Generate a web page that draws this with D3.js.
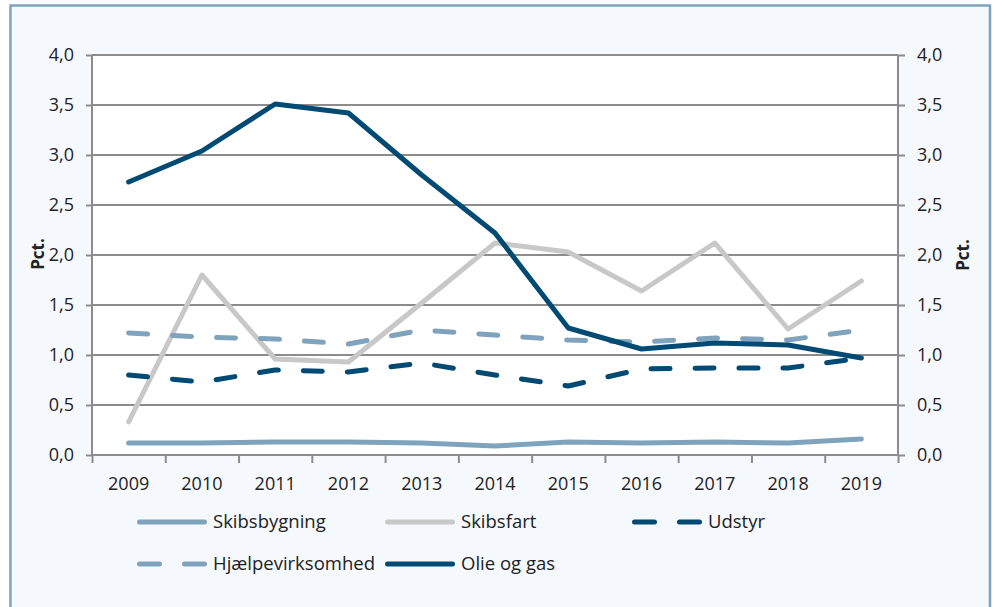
<!DOCTYPE html>
<html>
<head>
<meta charset="utf-8">
<script src="https://cdn.jsdelivr.net/npm/d3@7"></script>
<style>
  html, body { margin: 0; padding: 0; background: #ffffff; }
  svg { display: block; }
  text { font-family: "Open Sans", "Noto Sans", sans-serif; fill: #222222; }
</style>
</head>
<body>
<svg id="chart" width="994" height="607"></svg>
<script>
const years = ["2009","2010","2011","2012","2013","2014","2015","2016","2017","2018","2019"];
const skibsbygning     = [0.12, 0.12, 0.13, 0.13, 0.12, 0.09, 0.13, 0.12, 0.13, 0.12, 0.16];
const skibsfart        = [0.33, 1.80, 0.96, 0.93, 1.52, 2.12, 2.03, 1.64, 2.12, 1.26, 1.74];
const udstyr           = [0.80, 0.73, 0.85, 0.83, 0.92, 0.80, 0.69, 0.86, 0.87, 0.87, 0.97];
const hjaelpevirksomhed= [1.22, 1.18, 1.16, 1.11, 1.25, 1.20, 1.15, 1.13, 1.17, 1.15, 1.25];
const olieOgGas        = [2.73, 3.04, 3.51, 3.42, 2.80, 2.22, 1.27, 1.06, 1.12, 1.10, 0.97];
const yTicks = [0, 0.5, 1, 1.5, 2, 2.5, 3, 3.5, 4];
const yLabel = "Pct.";

const series = [
  { name: "Skibsbygning", values: skibsbygning, color: "#7fa3bc", dash: null },
  { name: "Skibsfart", values: skibsfart, color: "#c8c8c8", dash: null },
  { name: "Udstyr", values: udstyr, color: "#004a73", dash: "19,25" },
  { name: "Hjælpevirksomhed", values: hjaelpevirksomhed, color: "#7fa3bc", dash: "19,25" },
  { name: "Olie og gas", values: olieOgGas, color: "#004a73", dash: null }
];

const svg = d3.select("#chart");
const L = 92, R = 898, T = 55, B = 455;

// outer frame
svg.append("rect").attr("x", 10.5).attr("y", 5.5).attr("width", 979.5).attr("height", 620)
  .attr("fill", "#f5f9fd").attr("stroke", "#7fa3bd").attr("stroke-width", 2.5);

// plot area
svg.append("rect").attr("x", L).attr("y", T).attr("width", R - L).attr("height", B - T)
  .attr("fill", "#ffffff");

const x = d3.scaleBand().domain(years).range([L, R]).paddingInner(0).paddingOuter(0);
const y = d3.scaleLinear().domain([0, 4]).range([B, T]);
const fmt = v => d3.format(".1f")(v).replace(".", ",");

// gridlines
svg.append("g").selectAll("line").data(yTicks.filter(d => d > 0)).join("line")
  .attr("x1", L).attr("x2", R).attr("y1", d => y(d)).attr("y2", d => y(d))
  .attr("stroke", "#8c8c8c").attr("stroke-width", 2);

const axisColor = "#8c8c8c";
// left axis
const gl = svg.append("g").attr("transform", `translate(${L},0)`)
  .call(d3.axisLeft(y).tickValues(yTicks).tickFormat(fmt).tickSize(6).tickPadding(12));
// right axis
const gr = svg.append("g").attr("transform", `translate(${R},0)`)
  .call(d3.axisRight(y).tickValues(yTicks).tickFormat(fmt).tickSize(7).tickPadding(12));
// bottom axis
const xb = d3.scalePoint().domain(d3.range(years.length + 1)).range([L, R]);
const gb = svg.append("g").attr("transform", `translate(0,${B})`)
  .call(d3.axisBottom(xb).tickSize(8).tickFormat(""));
svg.append("g").selectAll("text").data(years).join("text")
  .attr("x", d => x(d) + x.bandwidth() / 2).attr("y", 490)
  .attr("text-anchor", "middle").attr("font-size", 18).text(d => d);

[gl, gr, gb].forEach(g => {
  g.select(".domain").attr("stroke", axisColor).attr("stroke-width", 2);
  g.selectAll(".tick line").attr("stroke", axisColor).attr("stroke-width", 2);
  g.selectAll(".tick text").attr("font-size", 18).attr("fill", "#222222")
    .attr("font-family", "'Open Sans', 'Noto Sans', sans-serif");
});
gl.select(".domain").attr("d", `M0,${B}V${T}`);
gr.select(".domain").attr("d", `M0,${B}V${T}`);
gb.select(".domain").attr("d", `M${L},0H${R}`);

// axis titles
svg.append("text").attr("transform", `translate(44,254) rotate(-90)`)
  .attr("text-anchor", "middle").attr("font-size", 17).attr("font-weight", "bold").text(yLabel);
svg.append("text").attr("transform", `translate(969,255) rotate(-90)`)
  .attr("text-anchor", "middle").attr("font-size", 17).attr("font-weight", "bold").text(yLabel);

// lines
const line = d3.line()
  .x((d, i) => x(years[i]) + x.bandwidth() / 2)
  .y(d => y(d));
svg.append("g").selectAll("path").data(series).join("path")
  .attr("d", d => line(d.values))
  .attr("fill", "none").attr("stroke", d => d.color).attr("stroke-width", 5)
  .attr("stroke-linejoin", "round").attr("stroke-linecap", "round")
  .attr("stroke-dasharray", d => d.dash);

// legend
const legendPos = [
  { x: 137, y: 522 }, { x: 385, y: 522 }, { x: 632, y: 522 },
  { x: 137, y: 564 }, { x: 385, y: 564 }
];
const lg = svg.append("g").selectAll("g").data(series).join("g")
  .attr("transform", (d, i) => `translate(${legendPos[i].x},${legendPos[i].y})`);
lg.append("line").attr("x1", 2.5).attr("x2", 67.5).attr("y1", 0).attr("y2", 0)
  .attr("stroke", d => d.color).attr("stroke-width", 5).attr("stroke-linecap", "round")
  .attr("stroke-dasharray", d => d.dash ? "20,25" : null);
lg.append("text").attr("x", 76).attr("y", 0).attr("dy", "0.35em")
  .attr("font-size", 18.5).text(d => d.name);
</script>
</body>
</html>
